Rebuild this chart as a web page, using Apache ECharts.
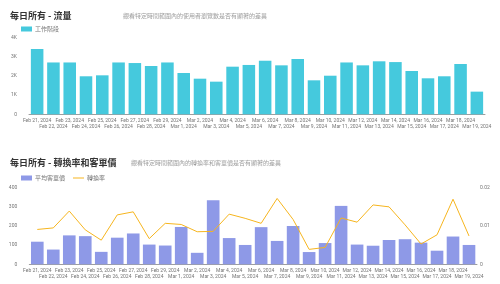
<!DOCTYPE html>
<html>
<head>
<meta charset="utf-8">
<script src="https://cdn.jsdelivr.net/npm/echarts@6/dist/echarts.min.js"></script>
<style>html,body{margin:0;padding:0;background:#fff}#c{width:500px;height:284px}</style>
</head>
<body>
<div id="c"></div>
<script>
var dates = ['Feb 21, 2024','Feb 22, 2024','Feb 23, 2024','Feb 24, 2024','Feb 25, 2024','Feb 26, 2024','Feb 27, 2024','Feb 28, 2024','Feb 29, 2024','Mar 1, 2024','Mar 2, 2024','Mar 3, 2024','Mar 4, 2024','Mar 5, 2024','Mar 6, 2024','Mar 7, 2024','Mar 8, 2024','Mar 9, 2024','Mar 10, 2024','Mar 11, 2024','Mar 12, 2024','Mar 13, 2024','Mar 14, 2024','Mar 15, 2024','Mar 16, 2024','Mar 17, 2024','Mar 18, 2024','Mar 19, 2024'];
var sessions = [3400,2700,2700,1980,2030,2700,2670,2515,2700,2150,1855,1700,2480,2570,2790,2550,2880,1770,2010,2700,2550,2760,2720,2255,1875,1980,2620,1180];
var avgOrderValue = [118,77,151,147,65,139,161,103,98,195,60,334,137,101,194,122,200,64,111,305,103,97,127,131,113,71,145,101];
var conversionRate = [0.0091,0.0095,0.0139,0.0090,0.0063,0.0129,0.0137,0.0067,0.0107,0.0104,0.0085,0.0086,0.0131,0.0120,0.0107,0.0172,0.0117,0.0039,0.0044,0.0121,0.0110,0.0155,0.0150,0.0103,0.0053,0.0077,0.0170,0.0074];
var sessionTicks = [0,1000,2000,3000,4000];
var aovTicks = [0,100,200,300,400];
var rateTicks = [0,0.01,0.02];

var title1 = '每日所有 - 流量';
var sub1 = '觀看特定時間範圍內的使用者瀏覽數是否有顯著的差異';
var title2 = '每日所有 - 轉換率和客單價';
var sub2 = '觀看特定時間範圍內的轉換率和客單價是否有顯著的差異';

var CJK = '"Noto Sans CJK TC","Noto Sans",sans-serif';
var LAT = 'Roboto,"Noto Sans",sans-serif';
var labelColor = '#757575';

function xAxisCfg(gi){
  return {
    type:'category', gridIndex:gi, data:dates,
    axisLine:{show:true,lineStyle:{color:'#9e9e9e',width:1}},
    axisTick:{show:false},
    axisLabel:{interval:0, margin:3, fontSize:5, lineHeight:6, color:labelColor, fontFamily:LAT,
      formatter:function(v,i){return i%2 ? '\n'+v : v;}}
  };
}
var legendText = {fontSize:6,color:labelColor,fontFamily:CJK,padding:[0,0,0,-2]};

var chart = echarts.init(document.getElementById('c'), null, {renderer:'canvas'});
chart.setOption({
  animation:false,
  title:[
    {text:title1,left:5,top:6,textStyle:{fontSize:9,fontWeight:'bold',color:'#333',fontFamily:CJK}},
    {text:sub1,left:118,top:8,textStyle:{fontSize:6,fontWeight:'normal',color:'#9e9e9e',fontFamily:CJK}},
    {text:title2,left:5,top:153,textStyle:{fontSize:9,fontWeight:'bold',color:'#333',fontFamily:CJK}},
    {text:sub2,left:126,top:155,textStyle:{fontSize:6,fontWeight:'normal',color:'#9e9e9e',fontFamily:CJK}}
  ],
  legend:[
    {data:['工作階段'],left:21,top:26,itemWidth:11,itemHeight:5,padding:0,icon:'rect',textStyle:legendText},
    {data:['平均客單價'],left:21,top:175,itemWidth:11,itemHeight:5,padding:0,icon:'rect',textStyle:legendText},
    {data:['轉換率'],left:73,top:175,itemWidth:11,itemHeight:1,padding:0,icon:'rect',textStyle:legendText}
  ],
  grid:[
    {left:29,right:15,top:37.5,bottom:169.7},
    {left:29.3,right:23,top:187.7,bottom:19.7}
  ],
  xAxis:[xAxisCfg(0), xAxisCfg(1)],
  yAxis:[
    {type:'value',gridIndex:0,min:sessionTicks[0],max:sessionTicks[sessionTicks.length-1],interval:1000,
     splitLine:{show:false},axisLine:{show:false},axisTick:{show:false},
     axisLabel:{fontSize:5,color:labelColor,fontFamily:LAT,margin:12,
       formatter:function(v){return v===0?'0':(v/1000)+'K';}}},
    {type:'value',gridIndex:1,min:aovTicks[0],max:aovTicks[aovTicks.length-1],interval:100,
     splitLine:{show:false},axisLine:{show:false},axisTick:{show:false},
     axisLabel:{fontSize:5,color:labelColor,fontFamily:LAT,margin:12}},
    {type:'value',gridIndex:1,position:'right',min:rateTicks[0],max:rateTicks[rateTicks.length-1],interval:0.01,
     splitLine:{show:false},axisLine:{show:false},axisTick:{show:false},
     axisLabel:{fontSize:5,color:labelColor,fontFamily:LAT,margin:3,
       formatter:function(v){return v===0?'0':v.toFixed(2);}}}
  ],
  series:[
    {name:'工作階段',type:'bar',xAxisIndex:0,yAxisIndex:0,data:sessions,barCategoryGap:'23%',
     itemStyle:{color:'#45c9dd'}},
    {name:'平均客單價',type:'bar',xAxisIndex:1,yAxisIndex:1,data:avgOrderValue,barCategoryGap:'21%',
     itemStyle:{color:'#8e99e7'}},
    {name:'轉換率',type:'line',xAxisIndex:1,yAxisIndex:2,data:conversionRate,symbol:'none',
     lineStyle:{color:'#f6b51e',width:1},itemStyle:{color:'#f6b51e'}}
  ]
});
</script>
</body>
</html>
